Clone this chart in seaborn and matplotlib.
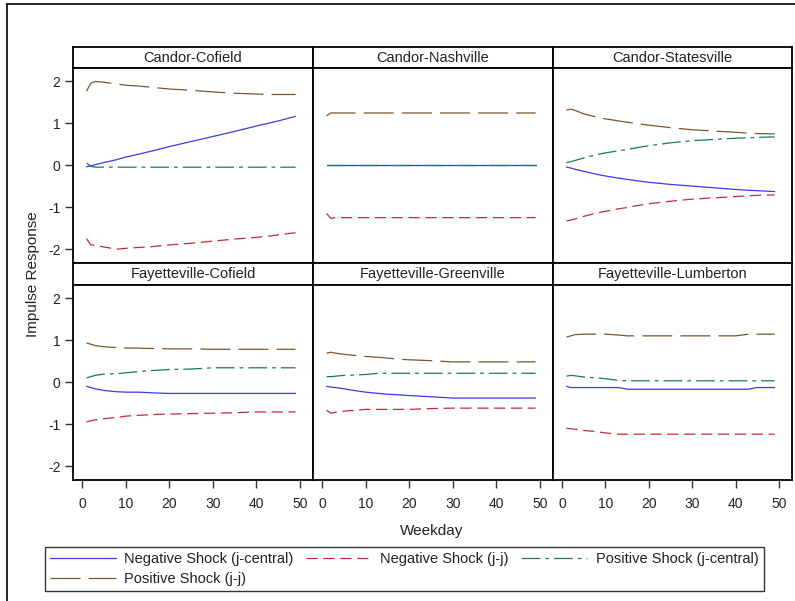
import matplotlib
matplotlib.use("Agg")
import matplotlib.pyplot as plt
from matplotlib.lines import Line2D
import seaborn as sns
import pandas as pd

#data (common weekday grid)
weekday = [1, 2, 3, 5, 8, 10, 13, 15, 17, 20, 25, 30, 35, 40, 43, 45, 49]

panels = ["Candor-Cofield", "Candor-Nashville", "Candor-Statesville",
          "Fayetteville-Cofield", "Fayetteville-Greenville", "Fayetteville-Lumberton"]
shocks = ["Negative Shock (j-central)", "Negative Shock (j-j)",
          "Positive Shock (j-central)", "Positive Shock (j-j)"]

#Candor-Cofield
cc_neg_jc = [-0.04, -0.02, 0.01, 0.06, 0.13, 0.19, 0.26, 0.31, 0.36, 0.44, 0.56, 0.68, 0.80, 0.93, 1.00, 1.05, 1.16]
cc_neg_jj = [-1.75, -1.90, -1.91, -1.95, -2.00, -1.98, -1.96, -1.95, -1.93, -1.90, -1.86, -1.81, -1.76, -1.72, -1.69, -1.66, -1.61]
cc_pos_jc = [0.05, -0.03, -0.05, -0.05, -0.05, -0.05, -0.05, -0.05, -0.05, -0.05, -0.05, -0.05, -0.05, -0.05, -0.05, -0.05, -0.05]
cc_pos_jj = [1.76, 1.95, 1.99, 1.97, 1.93, 1.90, 1.88, 1.86, 1.84, 1.81, 1.78, 1.74, 1.71, 1.69, 1.68, 1.68, 1.68]

#Candor-Nashville
cn_neg_jc = [0.01, 0.01, 0.01, 0.01, 0.01, 0.01, 0.01, 0.01, 0.01, 0.01, 0.01, 0.01, 0.01, 0.01, 0.01, 0.01, 0.01]
cn_neg_jj = [-1.15, -1.27, -1.25, -1.25, -1.25, -1.25, -1.25, -1.25, -1.25, -1.25, -1.25, -1.25, -1.25, -1.25, -1.25, -1.25, -1.25]
cn_pos_jc = [0.00, 0.00, 0.00, 0.00, 0.00, 0.00, 0.00, 0.00, 0.00, 0.00, 0.00, 0.00, 0.00, 0.00, 0.00, 0.00, 0.00]
cn_pos_jj = [1.17, 1.24, 1.24, 1.24, 1.24, 1.24, 1.24, 1.24, 1.24, 1.24, 1.24, 1.24, 1.24, 1.24, 1.24, 1.24, 1.24]

#Candor-Statesville
cs_neg_jc = [-0.05, -0.07, -0.10, -0.15, -0.22, -0.26, -0.31, -0.34, -0.37, -0.41, -0.46, -0.50, -0.54, -0.58, -0.60, -0.61, -0.63]
cs_neg_jj = [-1.33, -1.31, -1.28, -1.22, -1.14, -1.10, -1.04, -1.01, -0.97, -0.92, -0.86, -0.81, -0.78, -0.75, -0.73, -0.72, -0.71]
cs_pos_jc = [0.06, 0.08, 0.11, 0.17, 0.25, 0.29, 0.34, 0.37, 0.41, 0.46, 0.53, 0.58, 0.61, 0.64, 0.65, 0.66, 0.67]
cs_pos_jj = [1.31, 1.33, 1.30, 1.22, 1.14, 1.10, 1.05, 1.02, 0.99, 0.95, 0.89, 0.84, 0.81, 0.78, 0.76, 0.75, 0.74]

#Fayetteville-Cofield
fc_neg_jc = [-0.10, -0.13, -0.16, -0.20, -0.23, -0.24, -0.24, -0.25, -0.26, -0.27, -0.27, -0.27, -0.27, -0.27, -0.27, -0.27, -0.27]
fc_neg_jj = [-0.95, -0.92, -0.90, -0.87, -0.84, -0.81, -0.79, -0.78, -0.77, -0.76, -0.75, -0.74, -0.73, -0.71, -0.71, -0.71, -0.71]
fc_pos_jc = [0.10, 0.13, 0.16, 0.19, 0.20, 0.22, 0.25, 0.27, 0.28, 0.30, 0.31, 0.34, 0.34, 0.34, 0.34, 0.34, 0.34]
fc_pos_jj = [0.93, 0.90, 0.87, 0.84, 0.82, 0.81, 0.81, 0.80, 0.80, 0.79, 0.79, 0.78, 0.78, 0.78, 0.78, 0.78, 0.78]

#Fayetteville-Greenville
fg_neg_jc = [-0.10, -0.12, -0.13, -0.16, -0.21, -0.24, -0.27, -0.29, -0.30, -0.32, -0.35, -0.38, -0.38, -0.38, -0.38, -0.38, -0.38]
fg_neg_jj = [-0.67, -0.74, -0.72, -0.69, -0.67, -0.65, -0.65, -0.65, -0.65, -0.65, -0.63, -0.62, -0.62, -0.62, -0.62, -0.62, -0.62]
fg_pos_jc = [0.13, 0.13, 0.14, 0.16, 0.17, 0.18, 0.21, 0.21, 0.21, 0.21, 0.21, 0.21, 0.21, 0.21, 0.21, 0.21, 0.21]
fg_pos_jj = [0.69, 0.71, 0.69, 0.66, 0.63, 0.61, 0.59, 0.57, 0.55, 0.53, 0.51, 0.48, 0.48, 0.48, 0.48, 0.48, 0.48]

#Fayetteville-Lumberton
fl_neg_jc = [-0.10, -0.13, -0.13, -0.13, -0.13, -0.13, -0.13, -0.17, -0.17, -0.17, -0.17, -0.17, -0.17, -0.17, -0.17, -0.13, -0.13]
fl_neg_jj = [-1.10, -1.11, -1.12, -1.15, -1.18, -1.21, -1.24, -1.24, -1.24, -1.24, -1.24, -1.24, -1.24, -1.24, -1.24, -1.24, -1.24]
fl_pos_jc = [0.14, 0.16, 0.15, 0.12, 0.10, 0.08, 0.04, 0.03, 0.03, 0.03, 0.03, 0.03, 0.03, 0.03, 0.03, 0.03, 0.03]
fl_pos_jj = [1.07, 1.10, 1.13, 1.14, 1.14, 1.14, 1.12, 1.10, 1.10, 1.10, 1.10, 1.10, 1.10, 1.10, 1.14, 1.14, 1.14]

panel_series = {
	"Candor-Cofield": [cc_neg_jc, cc_neg_jj, cc_pos_jc, cc_pos_jj],
	"Candor-Nashville": [cn_neg_jc, cn_neg_jj, cn_pos_jc, cn_pos_jj],
	"Candor-Statesville": [cs_neg_jc, cs_neg_jj, cs_pos_jc, cs_pos_jj],
	"Fayetteville-Cofield": [fc_neg_jc, fc_neg_jj, fc_pos_jc, fc_pos_jj],
	"Fayetteville-Greenville": [fg_neg_jc, fg_neg_jj, fg_pos_jc, fg_pos_jj],
	"Fayetteville-Lumberton": [fl_neg_jc, fl_neg_jj, fl_pos_jc, fl_pos_jj],
}

#long format table
rows = []
for panel in panels:
	for shock, values in zip(shocks, panel_series[panel]):
		for day, value in zip(weekday, values):
			rows.append((panel, shock, day, value))
df = pd.DataFrame(rows, columns = ["pair", "shock", "weekday", "response"])

#---
#styling
sns.set_style("white")
plt.rcParams["font.family"] = ["Liberation Sans", "DejaVu Sans"]
plt.rcParams["axes.unicode_minus"] = False
text_color = "#222222"

colors = {shocks[0]: "#3a3af0", shocks[1]: "#c8283e", shocks[2]: "#17786c", shocks[3]: "#7d5530"}
dashes = {shocks[0]: "", shocks[1]: (9, 4.5), shocks[2]: (15, 4, 3, 4), shocks[3]: (24, 6.5)}
lw = 0.9

W, H = 795, 601
def rect(x0, y0, x1, y1):
	return [x0 / W, 1 - y1 / H, (x1 - x0) / W, (y1 - y0) / H]

fig = plt.figure(figsize = (7.95, 6.01), dpi = 100)

#outer frame
fig.add_artist(Line2D([7 / W, 7 / W], [0, 1 - 4 / H], color = "black", lw = 1.2))
fig.add_artist(Line2D([7 / W, 1], [1 - 4 / H, 1 - 4 / H], color = "black", lw = 1.2))

col_x = [(73, 313), (313, 553), (553, 792)]
row_y = [((47, 68), (68, 263)), ((263, 285), (285, 480))]

for i, panel in enumerate(panels):
	r, c = divmod(i, 3)
	x0, x1 = col_x[c]
	(h0, h1), (p0, p1) = row_y[r]

	#header strip
	hax = fig.add_axes(rect(x0, h0, x1, h1))
	hax.set_xticks([])
	hax.set_yticks([])
	for s in hax.spines.values():
		s.set_color("black")
		s.set_linewidth(1.3)
	hax.text(0.5, 0.5, panel, ha = "center", va = "center", fontsize = 10.5, color = text_color, transform = hax.transAxes)

	#plot area
	ax = fig.add_axes(rect(x0, p0, x1, p1))
	sub = df[df["pair"] == panel]
	sns.lineplot(data = sub, x = "weekday", y = "response", hue = "shock", style = "shock",
		palette = colors, dashes = dashes, linewidth = lw, legend = False, ax = ax)
	ax.set_xlim(-2.1, 53)
	ax.set_ylim(-2.33, 2.31)
	ax.set_xlabel("")
	ax.set_ylabel("")
	for s in ax.spines.values():
		s.set_color("black")
		s.set_linewidth(1.3)
	ax.tick_params(axis = "both", direction = "out", length = 6, width = 1, color = "#333333", labelsize = 10, labelcolor = text_color, pad = 3)
	ax.set_yticks([-2, -1, 0, 1, 2])
	ax.set_xticks([0, 10, 20, 30, 40, 50])
	if c == 0:
		ax.tick_params(axis = "y", left = True, labelleft = True)
	else:
		ax.tick_params(axis = "y", left = False, labelleft = False)
	if r == 1:
		ax.tick_params(axis = "x", bottom = True, labelbottom = True, pad = 6)
	else:
		ax.tick_params(axis = "x", bottom = False, labelbottom = False)

#axis titles
fig.text(33 / W, 1 - 274 / H, "Impulse Response", rotation = 90, ha = "center", va = "center", fontsize = 11, color = text_color)
fig.text(432 / W, 1 - 531 / H, "Weekday", ha = "center", va = "center", fontsize = 11, color = text_color)

#legend, row-major order for a column-filled legend
handles = [Line2D([], [], color = colors[s], lw = lw, dashes = dashes[s]) if dashes[s] else Line2D([], [], color = colors[s], lw = lw) for s in shocks]
order = [0, 3, 1, 2]
leg = fig.legend([handles[k] for k in order], [shocks[k] for k in order], ncol = 3,
	loc = "upper left", bbox_to_anchor = (45 / W, 1 - 547 / H), frameon = True, fancybox = False,
	edgecolor = "black", fontsize = 10.5, handlelength = 4.5, handletextpad = 0.6, columnspacing = 0.85,
	borderpad = 0.35, labelspacing = 0.4, borderaxespad = 0)
leg.get_frame().set_linewidth(1.0)
for t in leg.get_texts():
	t.set_color(text_color)

plt.savefig("out.png", dpi = 100)
